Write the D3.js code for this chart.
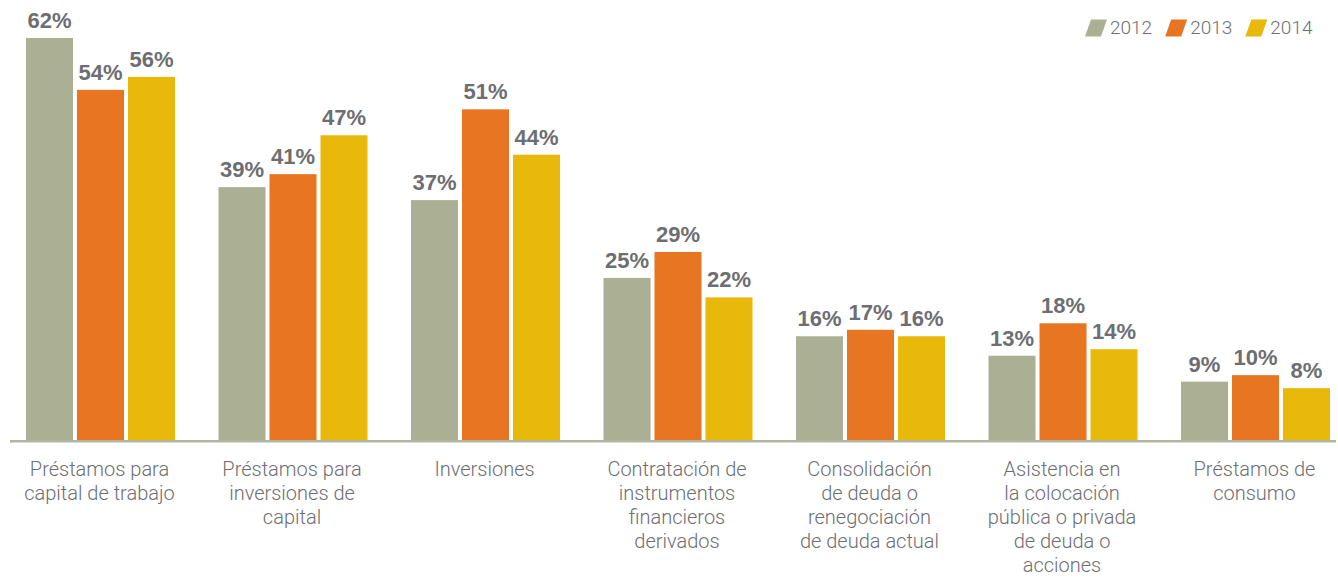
<!DOCTYPE html>
<html>
<head>
<meta charset="utf-8">
<script src="https://cdn.jsdelivr.net/npm/d3@7"></script>
<style>
  html, body { margin: 0; padding: 0; background: #fff; }
  svg { display: block; }
</style>
</head>
<body>
<svg id="chart" width="1338" height="578"></svg>
<script>
// Categories (each label split into its display lines)
const categories = [
  "Préstamos para capital de trabajo",
  "Préstamos para inversiones de capital",
  "Inversiones",
  "Contratación de instrumentos financieros derivados",
  "Consolidación de deuda o renegociación de deuda actual",
  "Asistencia en la colocación pública o privada de deuda o acciones",
  "Préstamos de consumo"
];
const categoryLines = [
  ["Préstamos para", "capital de trabajo"],
  ["Préstamos para", "inversiones de", "capital"],
  ["Inversiones"],
  ["Contratación de", "instrumentos", "financieros", "derivados"],
  ["Consolidación", "de deuda o", "renegociación", "de deuda actual"],
  ["Asistencia en", "la colocación", "pública o privada", "de deuda o", "acciones"],
  ["Préstamos de", "consumo"]
];
const years = ["2012", "2013", "2014"];
const values2012 = [62, 39, 37, 25, 16, 13, 9];
const values2013 = [54, 41, 51, 29, 17, 18, 10];
const values2014 = [56, 47, 44, 22, 16, 14, 8];
const seriesValues = [values2012, values2013, values2014];
const colors = ["#abb094", "#e87522", "#e8b80b"];

const svg = d3.select("#chart");
const textColor = "#6d6e71";

const baseY = 440;
const x0 = d3.scaleBand().domain(d3.range(categories.length)).range([26, 1330]).paddingInner(0.226).paddingOuter(0);
const x1 = d3.scaleBand().domain(years).range([0, x0.bandwidth()]).paddingInner(0.078).paddingOuter(0);
const y = d3.scaleLinear().domain([0, 62]).range([baseY, 38]);

const rows = categories.map((c, i) => ({
  i, items: years.map((yr, s) => ({ year: yr, s, v: seriesValues[s][i] }))
}));

const groups = svg.append("g").selectAll("g").data(rows).join("g")
  .attr("transform", d => `translate(${x0(d.i)},0)`);

groups.selectAll("rect").data(d => d.items).join("rect")
  .attr("x", d => x1(d.year))
  .attr("y", d => y(d.v))
  .attr("width", x1.bandwidth())
  .attr("height", d => baseY - y(d.v))
  .attr("fill", d => colors[d.s]);

groups.selectAll("text.val").data(d => d.items).join("text")
  .attr("class", "val")
  .attr("x", d => x1(d.year) + x1.bandwidth() / 2)
  .attr("y", d => y(d.v) - 10)
  .attr("text-anchor", "middle")
  .attr("font-family", "'Liberation Sans', Arial, sans-serif")
  .attr("font-weight", 700)
  .attr("font-size", 22)
  .attr("fill", textColor)
  .text(d => d.v + "%");

// Baseline
svg.append("line")
  .attr("x1", 10).attr("x2", 1336)
  .attr("y1", baseY + 1.2).attr("y2", baseY + 1.2)
  .attr("stroke", "#b2b69f").attr("stroke-width", 2.6);

// Category labels
const labels = svg.append("g").selectAll("text").data(rows).join("text")
  .attr("text-anchor", "middle")
  .attr("font-family", "Roboto, 'Liberation Sans', sans-serif")
  .attr("font-weight", 300)
  .attr("font-size", 20)
  .attr("fill", textColor)
  .attr("transform", d => `translate(${x0(d.i) + x0.bandwidth() / 2 - 1},476)`);
labels.selectAll("tspan").data(d => categoryLines[d.i]).join("tspan")
  .attr("x", 0)
  .attr("y", (d, k) => k * 24)
  .text(d => d);

// Legend with slanted swatches
const legend = svg.append("g");
let lx = 1085;
years.forEach((yr, s) => {
  const g = legend.append("g");
  g.append("path")
    .attr("d", `M${lx + 6},19.5 L${lx + 22},19.5 L${lx + 16},36.5 L${lx},36.5 Z`)
    .attr("fill", colors[s]);
  const t = g.append("text")
    .attr("x", lx + 25)
    .attr("y", 34)
    .attr("font-family", "Roboto, 'Liberation Sans', sans-serif")
    .attr("font-weight", 300)
    .attr("font-size", 19)
    .attr("fill", textColor)
    .text(yr);
  lx = lx + 25 + t.node().getComputedTextLength() + 13;
});
</script>
</body>
</html>
